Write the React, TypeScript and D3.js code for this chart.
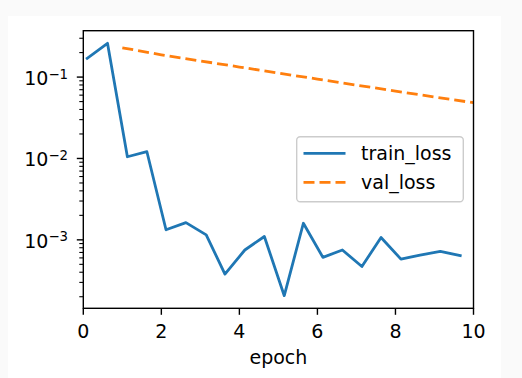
import React from "react";
import * as d3 from "d3";

const trainEpochs = [0.1, 0.62, 1.13, 1.63, 2.12, 2.63, 3.15, 3.63, 4.14, 4.64, 5.15, 5.64, 6.14, 6.64, 7.14, 7.63, 8.14, 8.63, 9.15, 9.66];
const trainLoss = [0.17, 0.26, 0.0105, 0.0121, 0.00133, 0.00163, 0.00115, 0.00038, 0.00075, 0.0011, 0.000206, 0.0016, 0.00061, 0.00075, 0.00047, 0.00107, 0.00058, 0.00065, 0.00072, 0.00064];
const valEpochs = [1, 2, 3, 4, 5, 6, 7, 8, 9, 10];
const valLoss = [0.229, 0.188, 0.158, 0.133, 0.112, 0.0945, 0.0797, 0.0673, 0.0569, 0.0484];
const xTicks = [0, 2, 4, 6, 8, 10];
const yMajorExps = [-1, -2, -3];
const seriesNames = ["train_loss", "val_loss"];
const xLabel = "epoch";

const FONT = "'DejaVu Sans', sans-serif";
const FS = 19;

export default function App() {
  const left = 83.3, right = 473.5, top = 30.7, bottom = 308.3;
  const all = [...trainLoss, ...valLoss];
  const lmin = Math.log10(d3.min(all)!), lmax = Math.log10(d3.max(all)!);
  const m = (lmax - lmin) * 0.05;
  const x = d3.scaleLinear().domain([0, 10]).range([left, right]);
  const y = d3.scaleLog().domain([Math.pow(10, lmin - m), Math.pow(10, lmax + m)]).range([bottom, top]);
  const [d0, d1] = y.domain();
  const minor: number[] = [];
  for (let e = Math.floor(Math.log10(d0)); e <= Math.ceil(Math.log10(d1)); e++) {
    for (let k = 2; k <= 9; k++) {
      const v = k * Math.pow(10, e);
      if (v >= d0 && v <= d1) minor.push(v);
    }
  }
  const line = d3.line<[number, number]>().x(d => x(d[0])).y(d => y(d[1]));
  const trainPath = line(trainEpochs.map((e, i) => [e, trainLoss[i]]))!;
  const valPath = line(valEpochs.map((e, i) => [e, valLoss[i]]))!;
  const colors = ["#1f77b4", "#ff7f0e"];
  const dash = "11,5";

  return (
    <svg width={522} height={378} style={{ position: "absolute", left: 0, top: 0 }} fontFamily={FONT}>
      <rect x={0} y={0} width={522} height={378} fill="#fafafa" />
      <rect x={8} y={16} width={493} height={362} fill="#ffffff" />
      <defs>
        <clipPath id="plotclip">
          <rect x={left} y={top} width={right - left} height={bottom - top} />
        </clipPath>
      </defs>
      <g clipPath="url(#plotclip)">
        <path d={trainPath} fill="none" stroke={colors[0]} strokeWidth={2.8} strokeLinejoin="round" strokeLinecap="square" />
        <path d={valPath} fill="none" stroke={colors[1]} strokeWidth={2.8} strokeDasharray={dash} />
      </g>
      {minor.map((v, i) => (
        <line key={"mn" + i} x1={left - 4} x2={left} y1={y(v)} y2={y(v)} stroke="#000" strokeWidth={1.1} />
      ))}
      {yMajorExps.map(e => {
        const yy = y(Math.pow(10, e));
        return (
          <g key={"my" + e}>
            <line x1={left - 6.5} x2={left} y1={yy} y2={yy} stroke="#000" strokeWidth={1.4} />
            <text x={68} y={yy + 7.8} textAnchor="end" fontSize={FS} fill="#000">
              <tspan>10</tspan>
              <tspan fontSize={13.3} dy={-6.3}>{"\u2212" + Math.abs(e)}</tspan>
            </text>
          </g>
        );
      })}
      {xTicks.map(t => (
        <g key={"xt" + t}>
          <line x1={x(t)} x2={x(t)} y1={bottom} y2={bottom + 6.5} stroke="#000" strokeWidth={1.4} />
          <text x={x(t)} y={337.8} textAnchor="middle" fontSize={FS} fill="#000">{t}</text>
        </g>
      ))}
      <rect x={left} y={top} width={right - left} height={bottom - top} fill="none" stroke="#000" strokeWidth={1.4} />
      <text x={(left + right) / 2} y={363.5} textAnchor="middle" fontSize={FS} fill="#000">{xLabel}</text>
      <rect x={296.7} y={136.7} width={166.6} height={65} rx={3.5} fill="#ffffff" fillOpacity={0.8} stroke="#cccccc" strokeWidth={1.4} />
      {seriesNames.map((n, i) => {
        const ly = 153.3 + i * 29;
        return (
          <g key={n}>
            <line x1={303.5} x2={345.5} y1={ly} y2={ly} stroke={colors[i]} strokeWidth={2.8} strokeDasharray={i === 1 ? dash : undefined} />
            <text x={361} y={ly + 6.8} fontSize={FS} fill="#000">{n}</text>
          </g>
        );
      })}
    </svg>
  );
}
